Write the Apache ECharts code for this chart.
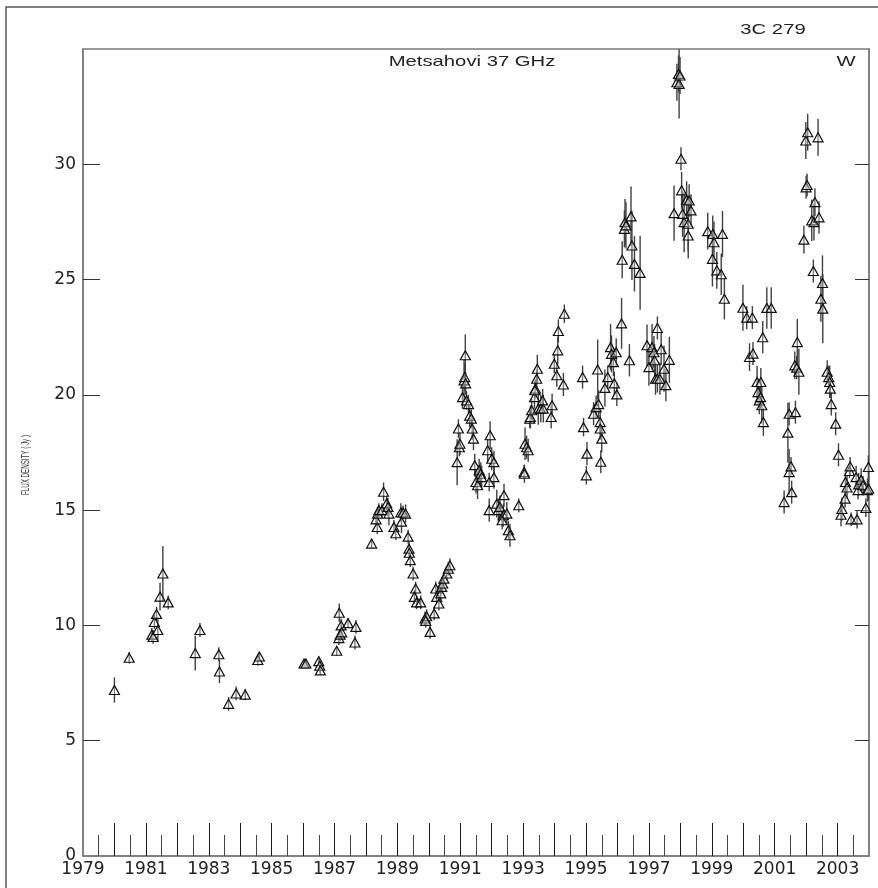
<!DOCTYPE html>
<html>
<head>
<meta charset="utf-8">
<script src="https://cdn.jsdelivr.net/npm/echarts@6/dist/echarts.min.js"></script>
<style>
html,body{margin:0;padding:0;background:#fff;}
#chart{width:878px;height:888px;}
</style>
</head>
<body>
<div id="chart"></div>
<script>
// ---- data (decimal year, flux density in Jy, 1-sigma error) ----
const years = [
  1980.00,1980.47,1981.19,1981.23,1981.27,1981.34,1981.38,1981.45,1981.54,1981.71,
  1982.57,1982.72,1983.32,1983.34,1983.63,1983.87,1984.16,1984.56,1984.61,
  1986.03,1986.09,1986.50,1986.53,1986.55,
  1987.07,1987.14,1987.15,1987.18,1987.21,1987.23,1987.43,1987.65,1987.68,
  1988.18,1988.36,1988.32,1988.37,1988.41,1988.56,1988.51,1988.66,1988.70,1988.73,
  1988.89,1988.95,1989.11,1989.18,1989.26,1989.13,1989.34,1989.37,1989.38,1989.41,
  1989.50,1989.58,1989.54,1989.61,1989.74,1989.88,1989.93,1989.90,1990.04,1990.17,
  1990.22,1990.25,1990.32,1990.38,1990.41,1990.44,1990.48,1990.57,1990.62,1990.67,
  1990.94,1990.97,1990.99,1990.90,1991.16,1991.12,1991.14,1991.17,1991.07,1991.20,
  1991.26,1991.30,1991.35,1991.38,1991.42,1991.46,1991.50,1991.55,1991.60,1991.65,
  1991.68,1991.87,1991.95,1992.00,1992.07,1992.07,1991.92,1991.92,1992.16,1992.21,
  1992.26,1992.39,1992.37,1992.48,1992.33,1992.53,1992.58,1992.86,
  1993.03,1993.04,1993.06,1993.11,1993.16,1993.21,1993.23,1993.27,1993.36,1993.39,
  1993.37,1993.43,1993.45,1993.48,1993.56,1993.62,1993.64,1993.89,1993.92,1993.99,
  1994.07,1994.10,1994.12,1994.28,1994.31,
  1994.89,1994.92,1995.03,1995.01,1995.24,1995.32,1995.37,1995.40,1995.45,1995.45,
  1995.50,1995.47,1995.60,1995.69,1995.78,1995.81,1995.87,1995.90,1995.98,1995.96,
  1996.13,1996.15,1996.22,1996.24,1996.27,1996.43,1996.46,1996.54,1996.72,1996.38,
  1996.94,1997.00,1997.10,1997.16,1997.18,1997.21,1997.27,1997.27,1997.35,1997.39,
  1997.48,1997.54,1997.65,
  1997.80,1997.89,1997.94,1997.96,1997.99,1998.02,1998.04,1998.07,1998.12,1998.20,
  1998.28,1998.34,1998.25,1998.25,
  1998.87,1999.02,1999.03,1999.07,1999.16,1999.30,1999.34,1999.40,
  1999.99,2000.11,2000.20,2000.29,2000.31,2000.44,2000.47,2000.51,2000.55,2000.56,
  2000.59,2000.62,2000.64,2000.75,2000.89,
  2001.30,2001.42,2001.46,2001.46,2001.52,2001.54,2001.64,2001.66,2001.70,2001.72,
  2001.77,2001.93,2001.99,2002.00,2002.03,2002.05,2002.18,2002.23,2002.25,2002.28,
  2002.38,2002.41,2002.47,2002.52,2002.53,2002.67,2002.72,2002.75,2002.77,2002.80,
  2002.94,2003.03,2003.11,2003.14,2003.24,2003.25,2003.30,2003.38,2003.40,2003.43,
  2003.59,2003.62,2003.65,2003.67,2003.75,2003.81,2003.90,2003.95,2003.98,2003.99
];
const flux = [
  7.2,8.6,9.6,9.5,10.15,10.5,9.8,11.25,12.25,11.0,
  8.8,9.8,8.75,8.0,6.6,7.05,7.0,8.5,8.65,
  8.35,8.35,8.45,8.25,8.05,
  8.9,9.45,10.55,9.6,10.0,9.7,10.1,9.26,9.94,
  13.55,14.27,14.6,14.85,15.0,15.8,15.0,15.3,15.14,14.85,
  14.27,14.0,14.9,14.9,14.85,14.5,13.85,13.33,13.15,12.83,
  12.25,11.6,11.24,11.0,11.0,10.3,10.4,10.2,9.72,10.52,
  11.6,11.24,10.95,11.39,11.67,11.82,12.03,12.25,12.46,12.61,
  18.54,17.73,17.88,17.08,21.72,20.63,20.77,20.5,19.9,19.76,
  19.6,19.1,18.97,18.54,18.1,16.95,16.22,16.08,16.73,16.58,
  16.43,17.6,18.25,17.23,17.08,16.43,16.22,15.0,15.28,15.0,
  15.14,15.65,14.78,14.85,14.56,14.13,13.91,15.21,
  16.65,16.58,17.88,17.73,17.6,18.97,19.04,19.33,19.9,20.27,
  20.2,20.7,21.13,19.4,19.4,19.76,19.4,19.04,19.55,21.35,
  20.85,21.93,22.77,20.45,23.52,
  20.77,18.6,17.45,16.51,19.18,19.47,21.1,19.6,18.82,18.54,
  18.1,17.1,20.3,20.77,22.07,21.78,21.42,20.5,20.02,21.85,
  23.1,25.86,27.2,27.49,27.35,27.74,26.48,25.68,25.29,21.5,
  22.15,21.2,22.07,21.85,21.5,20.7,22.9,20.7,20.7,21.98,
  21.13,20.42,21.52,
  27.88,33.56,33.92,33.49,33.85,30.24,28.87,27.85,27.49,28.46,
  28.43,28.0,27.42,26.91,
  27.1,25.9,26.98,26.62,25.4,25.23,26.98,24.17,
  23.78,23.35,21.64,23.35,21.79,20.56,20.12,19.76,19.9,20.56,
  19.55,22.5,18.82,23.77,23.77,
  15.35,18.36,19.18,16.65,16.9,15.78,21.28,19.25,21.18,22.29,
  21.0,26.73,31.03,29.0,29.1,31.39,27.57,25.37,27.49,28.36,
  31.17,27.7,24.17,24.85,23.74,21.0,20.77,20.56,20.27,19.6,
  18.75,17.4,14.8,15.05,15.5,16.22,15.98,16.7,16.9,14.6,
  16.43,14.6,15.87,16.12,16.32,16.08,15.1,15.87,16.87,15.93
];
const errs = [
  0.55,0.25,0.3,0.3,0.3,0.3,0.5,0.6,1.2,0.3,
  0.75,0.3,0.3,0.5,0.3,0.3,0.25,0.25,0.2,
  0.15,0.15,0.2,0.3,0.2,
  0.2,0.3,0.4,0.3,0.3,0.3,0.2,0.3,0.3,
  0.2,0.3,0.3,0.3,0.3,0.4,0.3,0.3,0.4,0.5,
  0.3,0.3,0.4,0.3,0.4,0.5,0.3,0.3,0.3,0.3,
  0.3,0.3,0.3,0.3,0.3,0.3,0.3,0.3,0.3,0.3,
  0.3,0.3,0.3,0.3,0.3,0.3,0.3,0.3,0.3,0.3,
  0.4,0.4,0.5,1.0,0.9,0.9,0.6,0.5,0.5,0.4,
  0.4,0.5,0.4,0.5,0.5,0.5,0.5,0.6,0.5,0.5,
  0.5,0.5,0.6,0.5,0.5,0.5,0.4,0.5,0.6,0.5,
  0.5,0.5,0.5,0.5,0.4,0.4,0.5,0.3,
  0.3,0.4,0.7,0.5,0.5,0.4,0.5,0.5,0.5,0.4,
  0.4,0.4,0.6,0.7,0.6,0.5,0.6,0.5,0.5,0.4,
  0.5,0.6,0.5,0.5,0.4,
  0.5,0.4,0.5,0.4,0.5,0.5,1.3,0.6,0.5,0.5,
  0.6,0.5,0.8,0.5,1.0,0.8,0.6,0.5,0.5,0.6,
  1.1,0.8,0.8,1.0,1.0,1.3,1.5,1.2,1.6,0.7,
  0.9,0.8,1.0,0.7,0.7,0.7,0.5,0.6,0.7,0.7,
  1.0,0.7,1.0,
  1.2,0.8,0.8,1.5,0.8,0.5,0.8,1.0,1.3,0.8,
  0.7,0.7,1.2,1.0,
  0.8,1.2,0.8,0.9,0.8,0.9,1.0,0.9,
  1.0,0.5,0.6,0.5,0.5,0.7,0.5,0.6,0.5,0.6,
  0.8,0.7,0.6,0.9,0.9,
  0.5,1.3,0.5,1.0,0.4,0.5,0.6,0.5,0.5,1.0,
  1.0,0.6,0.8,0.5,0.5,0.8,0.9,0.5,0.8,0.6,
  0.8,0.7,1.0,1.2,1.5,0.5,0.5,0.7,0.4,0.5,
  0.5,0.5,0.5,0.5,0.4,0.4,0.5,0.3,0.4,0.3,
  0.5,0.4,0.4,0.5,0.5,0.4,0.4,0.5,0.5,0.5
];
// ---- axes: tick and label positions ----
const yLabelValues = [0, 5, 10, 15, 20, 25, 30];
const yTickValues = [5, 10, 15, 20, 25, 30];
const xLabelYears = [1979,1981,1983,1985,1987,1989,1991,1993,1995,1997,1999,2001,2003];
const xMajorTicks = [1980,1981,1982,1983,1984,1985,1986,1987,1988,1989,1990,1991,1992,1993,1994,1995,1996,1997,1998,1999,2000,2001,2002,2003];
const xMinorTicks = [1979.5,1980.5,1981.5,1982.5,1983.5,1984.5,1985.5,1986.5,1987.5,1988.5,1989.5,1990.5,1991.5,1992.5,1993.5,1994.5,1995.5,1996.5,1997.5,1998.5,1999.5,2000.5,2001.5,2002.5,2003.5];
const titleText = '3C 279';
const subtitleText = 'Metsahovi 37 GHz';
const cornerText = 'W';
const yAxisName = 'FLUX DENSITY ( Jy )';

const points = years.map((y, i) => [y, flux[i], errs[i]]);

const chart = echarts.init(document.getElementById('chart'), null, {renderer: 'canvas'});
const labelFont = 'DejaVu Sans';
const axisGray = '#7a7a7a';

chart.setOption({
  animation: false,
  backgroundColor: '#fff',
  grid: {left: 83, right: 9, top: 49, bottom: 32, show: true, borderColor: axisGray, borderWidth: 1.5, backgroundColor: 'transparent'},
  xAxis: [{
    type: 'value', min: 1979, max: 2004, position: 'bottom',
    axisLine: {show: true, lineStyle: {color: axisGray, width: 1.5}},
    axisTick: {show: true, inside: true, length: 33, customValues: xMajorTicks, lineStyle: {color: '#1a1a1a', width: 1}},
    splitLine: {show: false},
    axisLabel: {
      margin: 5, fontFamily: labelFont, fontSize: 17, color: '#222',
      customValues: xLabelYears,
      formatter: v => String(Math.round(v))
    }
  }, {
    type: 'value', min: 1979, max: 2004, position: 'bottom',
    axisLine: {show: false},
    axisTick: {show: true, inside: true, length: 21, customValues: xMinorTicks, lineStyle: {color: '#444', width: 1}},
    splitLine: {show: false},
    axisLabel: {show: false}
  }],
  yAxis: [{
    type: 'value', min: 0, max: 35, position: 'left',
    axisLine: {show: true, lineStyle: {color: axisGray, width: 1.5}},
    axisTick: {show: true, inside: true, length: 17, customValues: yTickValues, lineStyle: {color: '#333', width: 1}},
    splitLine: {show: false},
    axisLabel: {
      margin: 7, fontFamily: labelFont, fontSize: 17, color: '#222',
      customValues: yLabelValues,
      formatter: v => String(Math.round(v))
    }
  }, {
    type: 'value', min: 0, max: 35, position: 'right',
    axisLine: {show: true, lineStyle: {color: axisGray, width: 1.5}},
    axisTick: {show: true, inside: true, length: 14, customValues: yTickValues, lineStyle: {color: '#333', width: 1}},
    splitLine: {show: false},
    axisLabel: {show: false}
  }],
  series: [{
    type: 'custom',
    clip: true,
    data: points,
    renderItem: function (params, api) {
      const x = api.value(0), y = api.value(1), e = api.value(2);
      const p1 = api.coord([x, y - e]);
      const p2 = api.coord([x, y + e]);
      return {
        type: 'line',
        shape: {x1: p1[0], y1: p1[1], x2: p2[0], y2: p2[1]},
        style: {stroke: '#404040', lineWidth: 1.4}
      };
    },
    encode: {x: 0, y: 1},
    silent: true, z: 2
  }, {
    type: 'scatter',
    data: points.map(p => [p[0], p[1]]),
    symbol: 'triangle',
    symbolSize: [10, 9],
    itemStyle: {color: 'rgba(255,255,255,0.35)', borderColor: '#111', borderWidth: 1.2, opacity: 1},
    silent: true, z: 3
  }],
  graphic: [
    {type: 'rect', shape: {x: 6, y: 7, width: 900, height: 900}, style: {fill: 'none', stroke: '#555', lineWidth: 1.5}, silent: true, z: 0},
    {type: 'text', x: 773, y: 30, scaleX: 1.35, style: {text: titleText, font: '15px "Liberation Sans"', fill: '#222', align: 'center', verticalAlign: 'middle'}, silent: true},
    {type: 'text', x: 472, y: 62, scaleX: 1.35, style: {text: subtitleText, font: '15px "Liberation Sans"', fill: '#222', align: 'center', verticalAlign: 'middle'}, silent: true},
    {type: 'text', x: 846, y: 62, scaleX: 1.35, style: {text: cornerText, font: '15px "Liberation Sans"', fill: '#222', align: 'center', verticalAlign: 'middle'}, silent: true},
    {type: 'text', x: 26, y: 465, rotation: Math.PI / 2, scaleX: 0.62, style: {text: yAxisName, font: '10px "Liberation Sans"', fill: '#333', align: 'center', verticalAlign: 'middle'}, silent: true}
  ]
});
</script>
</body>
</html>
